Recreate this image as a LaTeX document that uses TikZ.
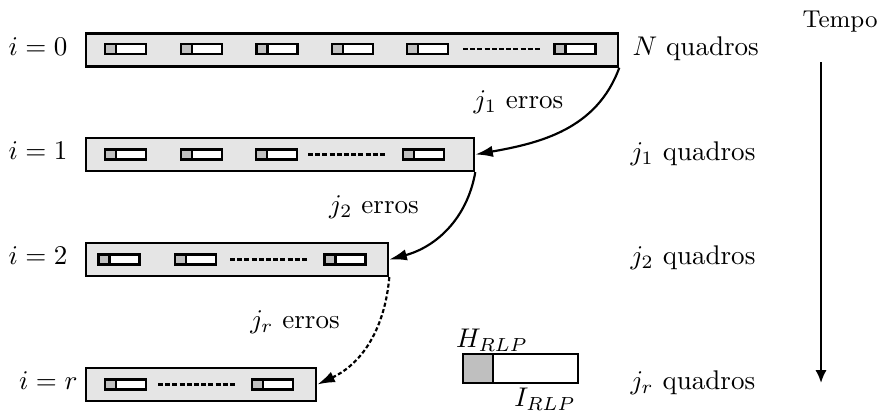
\documentclass[tikz,border=0pt]{standalone}
\usetikzlibrary{arrows.meta}
\def\u{0.37pt}
\definecolor{boxgray}{gray}{0.9}
\definecolor{hgray}{gray}{0.75}
\tikzset{
  rowbox/.style={draw, fill=boxgray, line width=0.85pt, minimum height=33*\u, inner sep=0pt, anchor=west},
  frm/.style={draw, fill=white, line width=0.85pt, minimum width=41*\u, minimum height=10*\u, inner sep=0pt,
    path picture={\fill[hgray] (path picture bounding box.south west) rectangle ([xshift=11*\u]path picture bounding box.north west);
      \draw[line width=0.8pt] ([xshift=11*\u]path picture bounding box.south west) -- ([xshift=11*\u]path picture bounding box.north west);}},
  dotsline/.style={line width=0.85pt, dash pattern=on 1.85pt off 0.81pt},
  conn/.style={line width=0.8pt, -{Latex[length=6.5pt,width=4.2pt]}},
  lbl/.style={anchor=base east, inner sep=0pt},
  rlbl/.style={anchor=base west, inner sep=0pt},
  elbl/.style={anchor=base, inner sep=0pt},
}
\begin{document}
\begin{tikzpicture}[x=0.37pt,y=0.37pt]
\useasboundingbox (0,0) rectangle (877,-412);
% rows
\node[rowbox, minimum width=532*\u] (r0) at (85,-50) {};
\node[rowbox, minimum width=388*\u] (r1) at (85,-154.5) {};
\node[rowbox, minimum width=302*\u] (r2) at (85,-259.5) {};
\node[rowbox, minimum width=230*\u] (r3) at (85,-384.5) {};
% frames row 0
\node[frm] (f01) at (125.5,-49) {};
\node[frm] (f02) at (201.5,-49) {};
\node[frm] (f03) at (277,-49) {};
\node[frm] (f04) at (352.5,-49) {};
\node[frm] (f05) at (427.5,-49) {};
\node[frm] (f06) at (575,-49) {};
\draw[dotsline] (463,-49) -- (541,-49);
% frames row 1
\node[frm] (f11) at (125.5,-154.5) {};
\node[frm] (f12) at (201.5,-154.5) {};
\node[frm] (f13) at (276.5,-154.5) {};
\node[frm] (f14) at (423.5,-154.5) {};
\draw[dotsline] (308,-154.5) -- (387,-154.5);
% frames row 2
\node[frm] (f21) at (119,-259.5) {};
\node[frm] (f22) at (195.5,-259.5) {};
\node[frm] (f23) at (345,-259.5) {};
\draw[dotsline] (230,-259.5) -- (308,-259.5);
% frames row r
\node[frm] (f31) at (125.5,-384.5) {};
\node[frm] (f32) at (272.5,-384.5) {};
\draw[dotsline] (158,-384.5) -- (237,-384.5);
% left labels
\node[lbl] (l0) at (68,-55) {$i=0$};
\node[lbl] (l1) at (68,-159.5) {$i=1$};
\node[lbl] (l2) at (68,-264.5) {$i=2$};
\node[lbl] (l3) at (78,-389.5) {$i=r$};
% right labels
\node[rlbl] (q0) at (632,-55) {$N$ quadros};
\node[rlbl] (q1) at (630,-160) {$j_1$ quadros};
\node[rlbl] (q2) at (630,-264) {$j_2$ quadros};
\node[rlbl] (q3) at (630,-389) {$j_r$ quadros};
% error labels
\node[elbl] (e1) at (518.5,-108) {$j_1$ erros};
\node[elbl] (e2) at (374,-213) {$j_2$ erros};
\node[elbl] (e3) at (295,-328) {$j_r$ erros};
% connectors
\draw[conn] (r0.south east) to[out=-110,in=10] (r1.east);
\draw[conn] (r1.south east) to[out=-100,in=15] (r2.east);
\draw[conn, dash pattern=on 1.5pt off 0.9pt] (r2.south east) to[out=-95,in=25] (r3.east);
% time
\node[elbl, font=\small] (tempo) at (840,-27) {Tempo};
\coordinate (t0) at (821,-62);
\coordinate (t1) at (821,-383);
\draw[line width=0.8pt, -{Latex[length=4.8pt,width=4.2pt]}] (t0) -- (t1);
% legend
\node[draw, fill=white, line width=0.85pt, minimum width=115*\u, minimum height=29*\u, inner sep=0pt,
  path picture={\fill[hgray] (path picture bounding box.south west) rectangle ([xshift=30*\u]path picture bounding box.north west);
    \draw[line width=0.8pt] ([xshift=30*\u]path picture bounding box.south west) -- ([xshift=30*\u]path picture bounding box.north west);}]
  (leg) at (520.5,-368.5) {};
\node[elbl] (hl) at (492,-347) {$H_{RLP}$};
\node[elbl] (il) at (545,-406) {$I_{RLP}$};
\end{tikzpicture}
\end{document}
